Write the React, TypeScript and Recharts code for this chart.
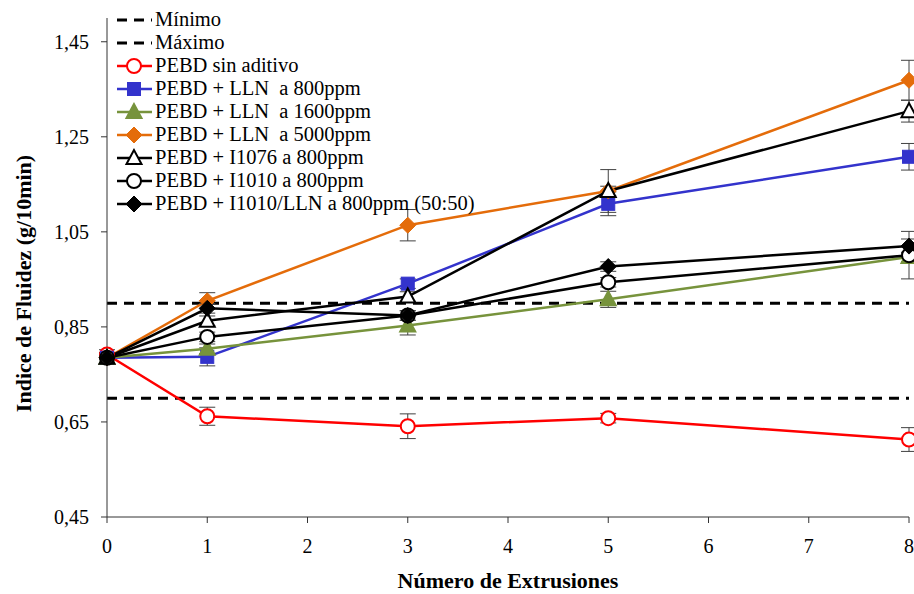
import {
  ErrorBar,
  Label,
  Line,
  LineChart,
  ReferenceLine,
  XAxis,
  YAxis,
} from 'recharts';

const FONT = '"Liberation Serif", "Times New Roman", serif';

const extrusions = [0, 1, 3, 5, 8];
const xTicks = [0, 1, 2, 3, 4, 5, 6, 7, 8];
const yTicks = [0.45, 0.65, 0.85, 1.05, 1.25, 1.45];

const minimo = 0.7;
const maximo = 0.9;

const sinAditivo = [0.792, 0.662, 0.641, 0.658, 0.613];
const lln800 = [0.785, 0.787, 0.941, 1.109, 1.208];
const lln1600 = [0.785, 0.804, 0.853, 0.908, 0.997];
const lln5000 = [0.785, 0.905, 1.064, 1.136, 1.369];
const i1076 = [0.785, 0.863, 0.914, 1.136, 1.304];
const i1010 = [0.785, 0.829, 0.874, 0.944, 1.001];
const i1010lln = [0.785, 0.889, 0.874, 0.977, 1.02];

const sinAditivoErr = [0.01, 0.019, 0.026, 0.01, 0.025];
const lln800Err = [0.01, 0.019, 0.01, 0.025, 0.028];
const lln1600Err = [0.01, 0.01, 0.02, 0.017, 0.01];
const lln5000Err = [0.01, 0.017, 0.033, 0.01, 0.042];
const i1076Err = [0.01, 0.01, 0.01, 0.045, 0.023];
const i1010Err = [0.01, 0.01, 0.01, 0.01, 0.05];
const i1010llnErr = [0.01, 0.01, 0.01, 0.01, 0.015];

type Shape = 'circle' | 'square' | 'triangle' | 'diamond';

type SeriesDef = {
  key: string;
  name: string;
  values: number[];
  errors: number[];
  color: string;
  shape: Shape;
  fill: string;
};

const series: SeriesDef[] = [
  { key: 'sin', name: 'PEBD sin aditivo', values: sinAditivo, errors: sinAditivoErr, color: '#ff0000', shape: 'circle', fill: '#ffffff' },
  { key: 'l800', name: 'PEBD + LLN  a 800ppm', values: lln800, errors: lln800Err, color: '#3333cc', shape: 'square', fill: '#3333cc' },
  { key: 'l1600', name: 'PEBD + LLN  a 1600ppm', values: lln1600, errors: lln1600Err, color: '#77933c', shape: 'triangle', fill: '#77933c' },
  { key: 'l5000', name: 'PEBD + LLN  a 5000ppm', values: lln5000, errors: lln5000Err, color: '#e46c0a', shape: 'diamond', fill: '#e46c0a' },
  { key: 'i1076', name: 'PEBD + I1076 a 800ppm', values: i1076, errors: i1076Err, color: '#000000', shape: 'triangle', fill: '#ffffff' },
  { key: 'i1010', name: 'PEBD + I1010 a 800ppm', values: i1010, errors: i1010Err, color: '#000000', shape: 'circle', fill: '#ffffff' },
  { key: 'mix', name: 'PEBD + I1010/LLN a 800ppm (50:50)', values: i1010lln, errors: i1010llnErr, color: '#000000', shape: 'diamond', fill: '#000000' },
];

const rows = extrusions.map((x, i) => {
  const row: Record<string, number> = { x };
  series.forEach((s) => {
    row[s.key] = s.values[i];
    row[`${s.key}Err`] = s.errors[i];
  });
  return row;
});

function marker(shape: Shape, cx: number, cy: number, color: string, fill: string, key?: string | number) {
  if (shape === 'circle') {
    return <circle key={key} cx={cx} cy={cy} r={7} fill={fill} stroke={color} strokeWidth={2} />;
  }
  if (shape === 'square') {
    return <rect key={key} x={cx - 6.5} y={cy - 6.5} width={13} height={13} fill={fill} stroke={color} strokeWidth={1} />;
  }
  if (shape === 'triangle') {
    return (
      <polygon
        key={key}
        points={`${cx},${cy - 8} ${cx - 7.5},${cy + 6} ${cx + 7.5},${cy + 6}`}
        fill={fill}
        stroke={color}
        strokeWidth={2}
      />
    );
  }
  return (
    <polygon
      key={key}
      points={`${cx},${cy - 8} ${cx + 8},${cy} ${cx},${cy + 8} ${cx - 8},${cy}`}
      fill={fill}
      stroke={color}
      strokeWidth={1}
    />
  );
}

function makeDot(s: SeriesDef) {
  return (props: any) => {
    const { cx, cy, index } = props;
    if (cx == null || cy == null) return <g key={`${s.key}-${index}`} />;
    return marker(s.shape, cx, cy, s.color, s.fill, `${s.key}-${index}`);
  };
}

function LegendBox() {
  const dashed = ['Mínimo', 'Máximo'];
  return (
    <div
      style={{
        position: 'absolute',
        left: 114,
        top: 8,
        fontFamily: FONT,
        fontSize: 20.5,
        color: '#000',
        lineHeight: '23px',
      }}
    >
      {dashed.map((d) => (
        <div key={d} style={{ display: 'flex', alignItems: 'center', height: 23 }}>
          <svg width={41} height={23}>
            <line x1={3} y1={12} x2={38} y2={12} stroke="#000" strokeWidth={3} strokeDasharray="10 7" />
          </svg>
          <span style={{ whiteSpace: 'pre' }}>{d}</span>
        </div>
      ))}
      {series.map((s) => (
        <div key={s.key} style={{ display: 'flex', alignItems: 'center', height: 23 }}>
          <svg width={41} height={23}>
            <line x1={3} y1={12} x2={38} y2={12} stroke={s.color} strokeWidth={2.5} />
            {marker(s.shape, 20, 12, s.color, s.fill)}
          </svg>
          <span style={{ whiteSpace: 'pre' }}>{s.name}</span>
        </div>
      ))}
    </div>
  );
}

const axisTick = { fill: '#000', fontSize: 20, fontFamily: FONT };

export default function App() {
  return (
    <div
      style={{
        position: 'absolute',
        left: 0,
        top: 0,
        width: 914,
        height: 594,
        background: '#fff',
        fontFamily: FONT,
      }}
    >
      <LineChart
        width={914}
        height={594}
        data={rows}
        margin={{ top: 18, right: 5, left: 0, bottom: 0 }}
        style={{ fontFamily: FONT }}
      >
        <XAxis
          dataKey="x"
          type="number"
          domain={[0, 8]}
          ticks={xTicks}
          height={77}
          tick={axisTick}
          tickSize={6}
          tickMargin={16}
          axisLine={{ stroke: '#333' }}
          tickLine={{ stroke: '#333' }}
        >
          <Label
            value="Número de Extrusiones"
            position="insideBottom"
            offset={6}
            style={{ fontFamily: FONT, fontSize: 22, fontWeight: 'bold', fill: '#000' }}
          />
        </XAxis>
        <YAxis
          type="number"
          domain={[0.45, 1.5]}
          ticks={yTicks}
          width={107}
          tick={axisTick}
          tickSize={6}
          tickMargin={12}
          tickFormatter={(v: number) => v.toFixed(2).replace('.', ',')}
          axisLine={{ stroke: '#333' }}
          tickLine={{ stroke: '#333' }}
          allowDataOverflow
        >
          <Label
            content={({ viewBox }: any) => {
              const cy = viewBox.y + viewBox.height / 2 + 16;
              return (
                <text
                  x={23}
                  y={cy}
                  transform={`rotate(-90 23 ${cy})`}
                  textAnchor="middle"
                  dominantBaseline="central"
                  style={{ fontFamily: FONT, fontSize: 22, fontWeight: 'bold', fill: '#000' }}
                >
                  Indice de Fluidez (g/10min)
                </text>
              );
            }}
          />
        </YAxis>
        <ReferenceLine y={minimo} stroke="#000" strokeWidth={3} strokeDasharray="10 7" />
        <ReferenceLine y={maximo} stroke="#000" strokeWidth={3} strokeDasharray="10 7" />
        {series.map((s) => (
          <Line
            key={s.key}
            dataKey={s.key}
            name={s.name}
            stroke={s.color}
            strokeWidth={2.5}
            type="linear"
            dot={makeDot(s)}
            activeDot={false}
            isAnimationActive={false}
          >
            <ErrorBar dataKey={`${s.key}Err`} direction="y" width={8} stroke="#404040" strokeWidth={1} />
          </Line>
        ))}
      </LineChart>
      <LegendBox />
    </div>
  );
}
